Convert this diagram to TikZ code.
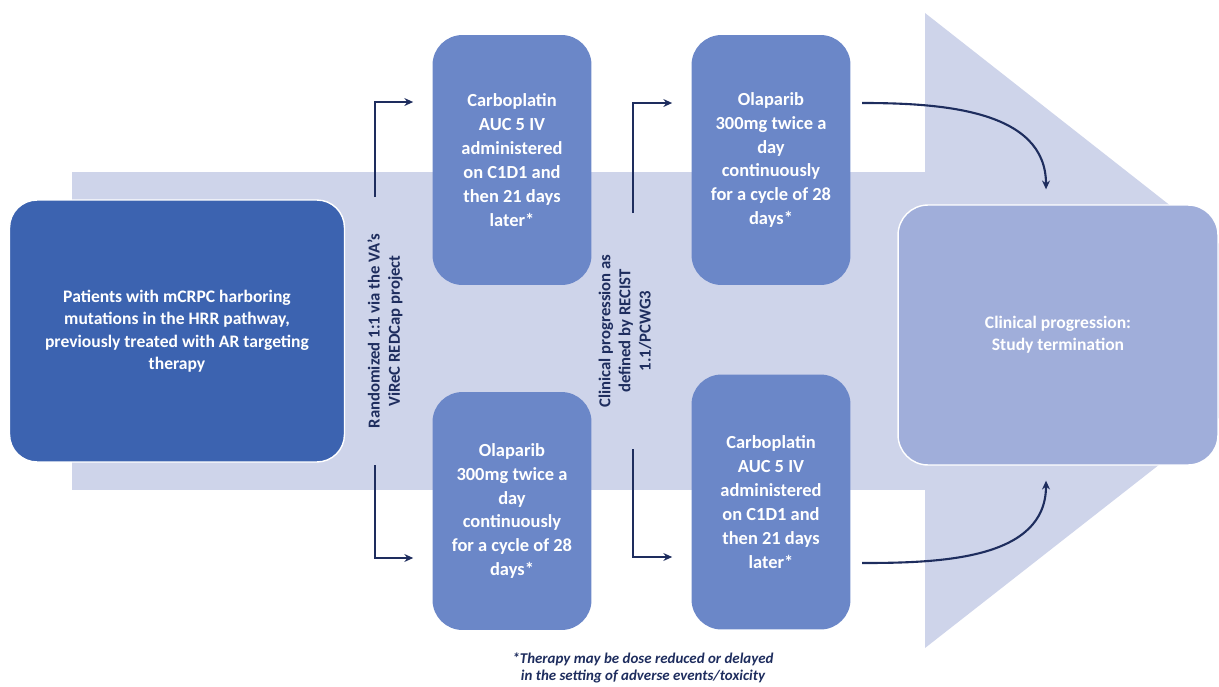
\documentclass[tikz,border=0pt]{standalone}
\usepackage{fontspec}
\setmainfont{Carlito}
\usetikzlibrary{arrows.meta,positioning}

\definecolor{bandfill}{HTML}{CED4EA}
\definecolor{startfill}{HTML}{3C63B0}
\definecolor{armfill}{HTML}{6B87C8}
\definecolor{endfill}{HTML}{A0AEDA}
\definecolor{navy}{HTML}{1E2D5E}

\begin{document}
\begin{tikzpicture}[
  x=0.02cm, y=-0.02cm,
  startbox/.style={draw=white, line width=0.8pt, rounded corners=0.55cm, fill=startfill, minimum width=6.7cm, minimum height=5.24cm, align=center, text=white, font=\bfseries\fontsize{10}{12.8}\selectfont},
  armbox/.style={rounded corners=0.6cm, fill=armfill, minimum width=3.18cm, minimum height=5cm, align=center, text=white, font=\bfseries\fontsize{10.5}{13.6}\selectfont},
  endbox/.style={draw=white, line width=0.8pt, rounded corners=0.6cm, fill=endfill, minimum width=6.4cm, minimum height=5.2cm, align=center, text=white, font=\bfseries\fontsize{10}{12.5}\selectfont},
  sidelabel/.style={rotate=90, align=center, text=navy, font=\bfseries\fontsize{9.5}{11.5}\selectfont},
  footnote/.style={align=center, text=navy, font=\bfseries\itshape\fontsize{8.5}{9.5}\selectfont},
  arr/.style={-{Stealth[length=5pt,width=4.5pt]}, navy, line width=1.2pt}
]
  \useasboundingbox (0,0) rectangle (1219,686);
  % big background arrow
  \begin{scope}
    \clip (0,0) rectangle (1219,686);
    \fill[bandfill] (72,172) rectangle (926,490);
    \fill[bandfill] (925,13) -- (1330,331) -- (925,648) -- cycle;
  \end{scope}

  \node[startbox] (patients) at (177,331) {Patients with mCRPC harboring\\mutations in the HRR pathway,\\previously treated with AR targeting\\therapy};
  \node[armbox] (carboA) at (512,160) {Carboplatin\\AUC 5 IV\\administered\\on C1D1 and\\then 21 days\\later*};
  \node[armbox, minimum height=4.76cm] (olapA) at (512,511) {Olaparib\\300mg twice a\\day\\continuously\\for a cycle of 28\\days*};
  \node[armbox] (olapB) at (771,160) {Olaparib\\300mg twice a\\day\\continuously\\for a cycle of 28\\days*};
  \node[armbox, minimum height=5.1cm] (carboB) at (771,502) {Carboplatin\\AUC 5 IV\\administered\\on C1D1 and\\then 21 days\\later*};
  \node[endbox] (term) at (1058,335) {Clinical progression:\\Study termination};

  \node[sidelabel] (rand) at (385,331) {Randomized 1:1 via the VA’s\\ViReC REDCap project};
  \node[sidelabel] (prog) at (625,331) {Clinical progression as\\defined by RECIST\\1.1/PCWG3};
  \node[footnote] (note) at (643,668) {*Therapy may be dose reduced or delayed\\in the setting of adverse events/toxicity};

  % brackets
  \coordinate (randtop) at (375,197);
  \coordinate (randbot) at (375,465);
  \coordinate (progtop) at (633,213);
  \coordinate (progbot) at (633,449);
  \draw[arr, shorten >=0.38cm] (randtop) |- ([yshift=1.16cm]carboA.west);
  \draw[arr, shorten >=0.38cm] (randbot) |- ([yshift=-0.94cm]olapA.west);
  \draw[arr, shorten >=0.38cm] (progtop) |- ([yshift=1.14cm]olapB.west);
  \draw[arr, shorten >=0.38cm] (progbot) |- ([yshift=-1.1cm]carboB.west);

  % to termination
  \coordinate (outA) at (862,103);
  \coordinate (outB) at (862,563);
  \draw[arr] (outA) to[out=0,in=90] ([xshift=-0.24cm,yshift=0.3cm]term.north);
  \draw[arr] (outB) to[out=0,in=-90] ([xshift=-0.24cm,yshift=-0.3cm]term.south);
\end{tikzpicture}
\end{document}
